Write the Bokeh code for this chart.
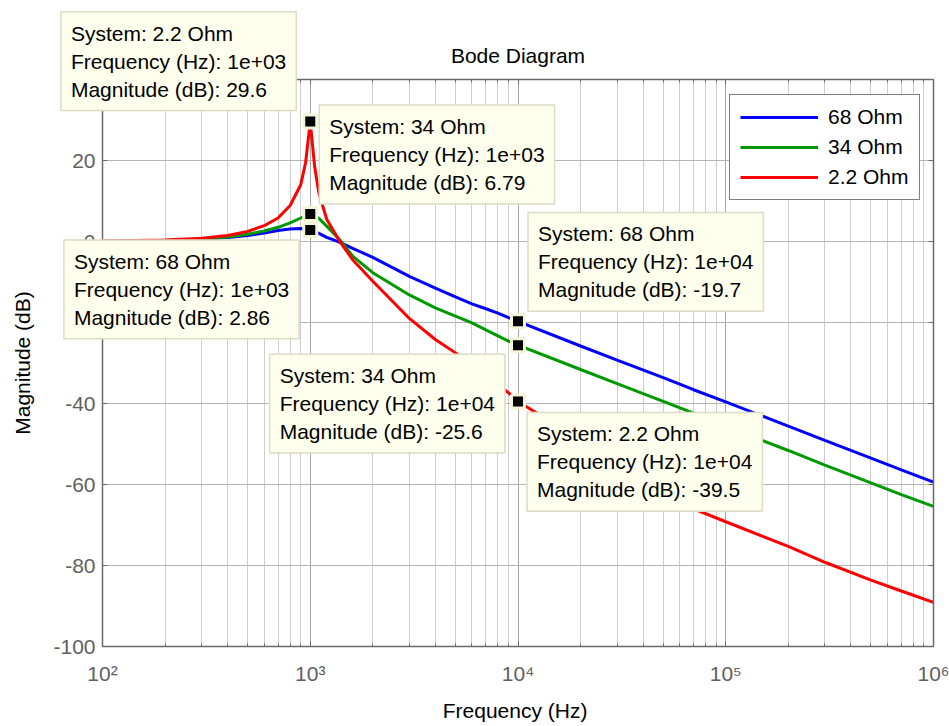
from bokeh.plotting import figure
from bokeh.models import FixedTicker, LogAxis, LinearAxis, Label, Legend, LegendItem, Range1d
from bokeh.embed import file_html
from bokeh.resources import INLINE
import math

# ---- data ----
freq = [100, 200, 300, 400, 500, 600, 700, 800, 900, 950, 1000, 1050, 1100, 1200,
        1400, 1600, 2000, 3000, 4000, 5000, 6000, 7000, 8000, 9000, 10000,
        20000, 30000, 50000, 70000, 100000, 200000, 300000, 500000, 700000, 1000000]
mag_68 = [0.05, 0.2, 0.5, 1.0, 1.5, 2.1, 2.7, 3.1, 3.2, 3.1, 2.86, 2.5, 2.0, 1.0,
          -0.3, -1.7, -3.9, -8.6, -11.5, -13.7, -15.4, -16.6, -17.7, -18.8, -19.7,
          -25.8, -29.3, -33.6, -36.6, -39.6, -45.6, -49.1, -53.5, -56.4, -59.4]
mag_34 = [0.05, 0.25, 0.6, 1.1, 1.8, 2.6, 3.5, 4.6, 5.8, 6.4, 6.79, 6.4, 5.7, 3.8,
          0.2, -3.6, -7.7, -13.2, -16.4, -18.4, -20.1, -21.8, -23.3, -24.6, -25.6,
          -31.6, -35.1, -39.5, -42.4, -45.7, -51.6, -55.2, -59.6, -62.5, -65.4]
mag_2_2 = [0.1, 0.35, 0.8, 1.5, 2.5, 3.9, 5.8, 8.9, 14.0, 19.5, 29.6, 18.5, 12.0, 5.5,
           -0.3, -4.5, -9.8, -19.0, -24.2, -27.5, -30.3, -32.8, -35.2, -37.4, -39.5,
           -49.0, -54.5, -61.5, -66.0, -69.2, -75.3, -79.2, -83.6, -86.3, -89.1]
series_names = ["68 Ohm", "34 Ohm", "2.2 Ohm"]
series_colors = ["#0000ff", "#009900", "#ff0000"]

x_ticks = [100, 1000, 10000, 100000, 1000000]
x_tick_labels = ["10\u00b2", "10\u00b3", "10\u2074", "10\u2075", "10\u2076"]
x_minor = [m * d for d in [100, 1000, 10000, 100000] for m in range(2, 10)]
y_ticks = [-100, -80, -60, -40, -20, 0, 20, 40]
y_tick_labels = ["-100", "-80", "-60", "-40", "-20", "0", "20", "40"]
x_lim = (100, 1000000)
y_lim = (-100, 40)

tip_sys = ["2.2 Ohm", "34 Ohm", "68 Ohm", "68 Ohm", "34 Ohm", "2.2 Ohm"]
tip_freq = [1000, 1000, 1000, 10000, 10000, 10000]
tip_mag = [29.6, 6.79, 2.86, -19.7, -25.6, -39.5]

title_text = "Bode Diagram"
x_label = "Frequency  (Hz)"
y_label = "Magnitude (dB)"

# ---- layout (pixels) ----
W, H = 949, 726
PL, PR, PT, PB = 102, 933, 79, 646          # axes box inside the canvas
tip_layout = [("bottom_right", -14, 11), ("bottom_left", 9, 10), ("top_right", -11, -10),
              ("bottom_left", 10, 10), ("top_right", -13, -9), ("top_left", 9, -11)]

dec_px = (PR - PL) / (math.log10(x_lim[1]) - math.log10(x_lim[0]))
db_px = (PB - PT) / (y_lim[1] - y_lim[0])
x_range = Range1d(10 ** (math.log10(x_lim[0]) - PL / dec_px),
                  10 ** (math.log10(x_lim[1]) + (W - PR) / dec_px))
y_range = Range1d(y_lim[0] - (H - PB) / db_px, y_lim[1] + PT / db_px)

FONT = "Liberation Sans"
FS = "21px"
AX = "#6a6a6a"

p = figure(width=W, height=H, x_axis_type="log", x_range=x_range, y_range=y_range,
           output_backend="svg", toolbar_location=None,
           min_border_left=0, min_border_right=0, min_border_top=0, min_border_bottom=0)
p.outline_line_color = None
p.background_fill_color = "white"
p.border_fill_color = "white"

xt = FixedTicker(ticks=x_ticks, minor_ticks=x_minor)
yt = FixedTicker(ticks=y_ticks, minor_ticks=[])

bottom_ax = p.below[0]
left_ax = p.left[0]
top_ax = LogAxis()
right_ax = LinearAxis()
p.add_layout(top_ax, "above")
p.add_layout(right_ax, "right")

for ax, tk, loc, bnd in [(bottom_ax, xt, y_lim[0], x_lim), (top_ax, xt, y_lim[1], x_lim),
                         (left_ax, yt, x_lim[0], y_lim), (right_ax, yt, x_lim[1], y_lim)]:
    ax.ticker = tk
    ax.fixed_location = loc
    ax.bounds = bnd
    ax.axis_line_color = AX
    ax.axis_line_width = 1.5
    ax.major_tick_line_color = AX
    ax.minor_tick_line_color = AX
    ax.major_tick_in = 5
    ax.major_tick_out = 0
    ax.minor_tick_in = 3
    ax.minor_tick_out = 0
    ax.major_label_text_font = FONT
    ax.major_label_text_font_size = FS
    ax.major_label_text_color = "#606060"
    ax.axis_label_text_font = FONT
    ax.axis_label_text_font_size = FS
    ax.axis_label_text_font_style = "normal"
    ax.axis_label_text_color = "black"

for ax in [top_ax, right_ax]:
    ax.major_label_text_font_size = "2px"
    ax.major_label_text_alpha = 0.0
    ax.major_label_standoff = 0

bottom_ax.major_label_overrides = dict(zip(x_ticks, x_tick_labels))
left_ax.major_label_overrides = dict(zip(y_ticks, y_tick_labels))
bottom_ax.axis_label = x_label
left_ax.axis_label = y_label
bottom_ax.major_label_standoff = 15
bottom_ax.axis_label_standoff = 11
left_ax.major_label_standoff = 7
left_ax.axis_label_standoff = 16

p.xgrid.ticker = xt
p.ygrid.ticker = yt
p.xgrid.bounds = x_lim
p.ygrid.bounds = y_lim
p.xgrid.cross_bounds = y_lim
p.ygrid.cross_bounds = x_lim
p.xgrid.grid_line_color = "#a8a8a8"
p.xgrid.minor_grid_line_color = "#cdcdcd"
p.ygrid.grid_line_color = "#b4b4b4"

curves = [p.line(freq, mags, line_color=c, line_width=3)
          for mags, c in zip([mag_68, mag_34, mag_2_2], series_colors)]

# data tip markers
p.scatter(tip_freq, tip_mag, marker="square", size=13, fill_color="black",
          line_color="#f4f4d8", line_width=3)

# data tip boxes
for s, f, m, (anc, dx, dy) in zip(tip_sys, tip_freq, tip_mag, tip_layout):
    txt = f"System: {s}\nFrequency (Hz): {f:.0e}\nMagnitude (dB): {m:.3g}"
    p.add_layout(Label(x=f, y=m, x_offset=dx, y_offset=dy, anchor=anc, text=txt,
                       text_font=FONT, text_font_size=FS, text_line_height=1.215,
                       text_color="black", padding=10,
                       background_fill_color="#ffffee", background_fill_alpha=1.0,
                       border_line_color="#dcdcc4", border_line_width=1.5))

# title
p.add_layout(Label(x=(PL + PR) / 2, y=H - 55, x_units="screen", y_units="screen",
                   text=title_text, text_align="center", text_baseline="middle",
                   text_font=FONT, text_font_size=FS, text_color="black"))

legend = Legend(items=[LegendItem(label=n, renderers=[r]) for n, r in zip(series_names, curves)],
                location=(729, H - 200), margin=0, padding=10, spacing=6,
                glyph_width=78, glyph_height=20, label_height=20, label_standoff=10,
                label_text_font=FONT, label_text_font_size=FS, label_text_color="black",
                border_line_color="black", border_line_width=1.5,
                background_fill_color="white", background_fill_alpha=1.0)
p.add_layout(legend)

open("out.html", "w").write(file_html(p, INLINE))
